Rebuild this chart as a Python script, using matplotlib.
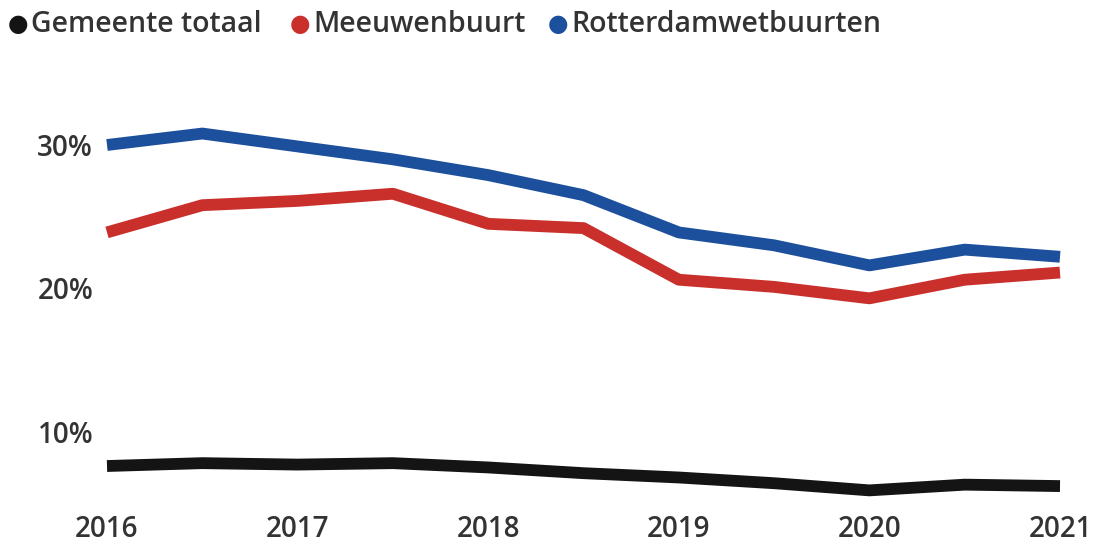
import matplotlib
matplotlib.use("Agg")
import matplotlib.pyplot as plt

plt.rcParams['font.family'] = ['Open Sans', 'DejaVu Sans']

years = [2016, 2016.5, 2017, 2017.5, 2018, 2018.5, 2019, 2019.5, 2020, 2020.5, 2021]
gemeente = [7.6, 7.8, 7.7, 7.8, 7.5, 7.1, 6.8, 6.4, 5.9, 6.3, 6.2]
meeuwen = [23.9, 25.8, 26.1, 26.6, 24.5, 24.2, 20.6, 20.1, 19.3, 20.6, 21.1]
rotterdamwet = [30.0, 30.8, 29.9, 29.0, 27.9, 26.5, 23.9, 23.0, 21.6, 22.7, 22.2]

series = ["Gemeente totaal", "Meeuwenbuurt", "Rotterdamwetbuurten"]
colors = ["#141414", "#c9302c", "#1c4f9c"]
xticks = [2016, 2017, 2018, 2019, 2020, 2021]
yticks = [10, 20, 30]

fig = plt.figure(figsize=(10.97, 5.47), dpi=100)
ax = fig.add_axes([107 / 1097, 1 - 505 / 547, 953 / 1097, 405 / 547])

for vals, col in zip([gemeente, meeuwen, rotterdamwet], colors):
    ax.plot(years, vals, color=col, lw=8.5, solid_capstyle='butt', solid_joinstyle='round', clip_on=False)

ax.set_xlim(2016, 2021)
ax.set_ylim(4.88, 33.14)
ax.set_xticks(xticks)
ax.set_xticklabels([str(x) for x in xticks])
ax.set_yticks(yticks)
ax.set_yticklabels([f"{y}%" for y in yticks])
ax.tick_params(length=0, labelsize=20, colors="#333333", pad=10)
ax.tick_params(axis='x', pad=7)
for lab in ax.get_xticklabels() + ax.get_yticklabels():
    lab.set_fontweight('semibold')
for s in ax.spines.values():
    s.set_visible(False)

# legend at top
leg_x = [18, 300, 558]
for name, col, xp in zip(series, colors, leg_x):
    fig.text(xp / 1097, 1 - 24 / 547, "\u25cf", color=col, fontsize=17, va='center', ha='center',
             family='DejaVu Sans')
    fig.text((xp + 13) / 1097, 1 - 24 / 547, name, color="#333333", fontsize=20.5, va='center',
             fontweight='semibold')

fig.savefig("out.png", dpi=100)
